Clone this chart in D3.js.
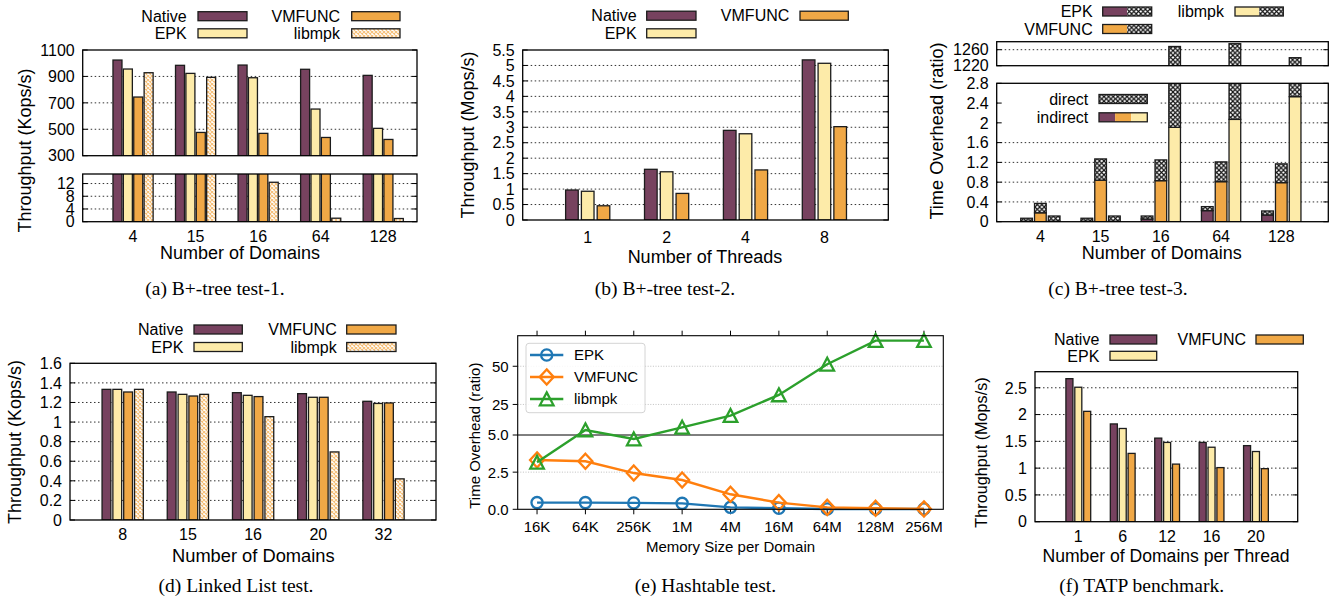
<!DOCTYPE html>
<html><head><meta charset="utf-8">
<script src="https://cdn.jsdelivr.net/npm/d3@7"></script>
<style>
body{margin:0;background:#fff}
svg{display:block}
text{font-family:"Liberation Sans",Arial,Helvetica,sans-serif;fill:#000}
.cap{font-family:"Liberation Serif","Times New Roman",serif}
</style>
</head><body>
<svg id="chart" width="1335" height="602"></svg>
<script>
// ---------------- DATA ----------------
// (a) B+-tree test-1
const aCats = ["4","15","16","64","128"];
const aNative = [1024, 984, 986, 954, 908];
const aEPK = [956, 923, 890, 653, 507];
const aVMFUNC = [744, 476, 469, 438, 423];
const aLibmpk = [928, 893, 12.4, 1.1, 1.0];
const aYTicksUpper = [300, 500, 700, 900, 1100];
const aYTicksLower = [0, 4, 8, 12];

// (b) B+-tree test-2
const bCats = ["1","2","4","8"];
const bNative = [0.97, 1.64, 2.90, 5.18];
const bEPK = [0.93, 1.56, 2.79, 5.07];
const bVMFUNC = [0.46, 0.86, 1.62, 3.02];
const bYTicks = [0, 0.5, 1, 1.5, 2, 2.5, 3, 3.5, 4, 4.5, 5, 5.5];

// (c) B+-tree test-3 (indirect part and total = indirect + direct)
const cCats = ["4","15","16","64","128"];
const cEPKIndirect = [0.01, 0.01, 0.054, 0.224, 0.136];
const cEPKTotal = [0.07, 0.07, 0.115, 0.305, 0.217];
const cVMFUNCIndirect = [0.18, 0.84, 0.83, 0.81, 0.79];
const cVMFUNCTotal = [0.37, 1.27, 1.25, 1.21, 1.17];
const cLibmpkIndirect = [0.01, 0.01, 1.91, 2.07, 2.53];
const cLibmpkTotal = [0.115, 0.115, 1268, 1275, 1240];
const cYTicksUpper = [1220, 1260];
const cYTicksLower = [0, 0.4, 0.8, 1.2, 1.6, 2, 2.4, 2.8];

// (d) Linked List test
const dCats = ["8","15","16","20","32"];
const dNative = [1.334, 1.307, 1.30, 1.29, 1.212];
const dEPK = [1.334, 1.283, 1.273, 1.253, 1.19];
const dVMFUNC = [1.307, 1.266, 1.26, 1.253, 1.195];
const dLibmpk = [1.334, 1.283, 1.055, 0.695, 0.42];
const dYTicks = [0, 0.2, 0.4, 0.6, 0.8, 1, 1.2, 1.4, 1.6];

// (e) Hashtable test
const eCats = ["16K","64K","256K","1M","4M","16M","64M","128M","256M"];
const eEPK = [0.45, 0.45, 0.43, 0.40, 0.13, 0.07, 0.02, 0.02, 0.02];
const eVMFUNC = [3.32, 3.23, 2.44, 1.97, 1.01, 0.45, 0.13, 0.07, 0.02];
const eLibmpk = [3.16, 8.3, 4.73, 10.0, 17.7, 31.2, 51.3, 66.8, 66.8];
const eYTicks = [0, 2.5, 5, 25, 50];
const eYTickLabels = ["0.0", "2.5", "5.0", "25", "50"];

// (f) TATP benchmark
const fCats = ["1","6","12","16","20"];
const fNative = [2.67, 1.825, 1.56, 1.48, 1.42];
const fEPK = [2.51, 1.74, 1.48, 1.39, 1.31];
const fVMFUNC = [2.06, 1.275, 1.075, 1.01, 0.99];
const fYTicks = [0, 0.5, 1, 1.5, 2, 2.5];

const captions = ["(a) B+-tree test-1.", "(b) B+-tree test-2.", "(c) B+-tree test-3.",
                  "(d) Linked List test.", "(e) Hashtable test.", "(f) TATP benchmark."];

// ---------------- STYLE ----------------
const C_NATIVE = "#77425f";
const C_EPK = "#fdeba9";
const C_VMFUNC = "#f0a846";
const OUTLINE = "#1c1c1c";

const svg = d3.select("#chart");
const defs = svg.append("defs");

function crossPattern(id, color, bg, size, sw) {
  const p = defs.append("pattern").attr("id", id).attr("patternUnits", "userSpaceOnUse")
    .attr("width", size).attr("height", size);
  p.append("rect").attr("width", size).attr("height", size).attr("fill", bg);
  p.append("path").attr("d", `M0,0L${size},${size}M${size},0L0,${size}`)
    .attr("stroke", color).attr("stroke-width", sw);
}
crossPattern("libmpkPat", "#f5bf78", "#fff", 4, 1.1);
crossPattern("directPat", "#111", "#fff", 4.6, 1.15);
const F_LIBMPK = "url(#libmpkPat)";
const F_DIRECT = "url(#directPat)";

function text(g, x, y, s, size, anchor) {
  return g.append("text").attr("x", x).attr("y", y).attr("font-size", size)
    .attr("text-anchor", anchor || "start").text(s);
}
function vtext(g, cx, cy, s, size) {
  return g.append("text").attr("transform", `translate(${cx},${cy}) rotate(-90)`)
    .attr("font-size", size).attr("text-anchor", "middle").attr("dy", "0.35em").text(s);
}

let clipN = 0;
function subPanel(g, left, right, sp) {
  const y = d3.scaleLinear().domain(sp.domain).range([sp.bottom, sp.top]);
  const inner = sp.ticks.filter(t => t > sp.domain[0] && t < sp.domain[1]);
  g.append("g").selectAll("line").data(inner).join("line")
    .attr("x1", left).attr("x2", right).attr("y1", d => y(d)).attr("y2", d => y(d))
    .attr("stroke", "#333").attr("stroke-width", 1).attr("stroke-dasharray", "1.5,2.5");
  const cid = "clip" + (clipN++);
  defs.append("clipPath").attr("id", cid).append("rect")
    .attr("x", left).attr("y", sp.top).attr("width", right - left).attr("height", sp.bottom - sp.top);
  const layer = g.append("g").attr("clip-path", `url(#${cid})`);
  return {y, layer, sp};
}
function finishPanel(g, left, right, P, fontSize) {
  const {y, sp} = P;
  g.append("rect").attr("x", left).attr("y", sp.top).attr("width", right - left)
    .attr("height", sp.bottom - sp.top).attr("fill", "none").attr("stroke", "#000").attr("stroke-width", 1.3);
  sp.ticks.forEach(t => {
    g.append("line").attr("x1", left).attr("x2", left + 5).attr("y1", y(t)).attr("y2", y(t))
      .attr("stroke", "#000").attr("stroke-width", 1);
    g.append("line").attr("x1", right - 5).attr("x2", right).attr("y1", y(t)).attr("y2", y(t))
      .attr("stroke", "#000").attr("stroke-width", 1);
  });
  g.append("g").selectAll("text").data(sp.ticks).join("text")
    .attr("x", left - 8).attr("y", d => y(d)).attr("dy", "0.36em")
    .attr("text-anchor", "end").attr("font-size", fontSize).text(d => String(d));
}
function seg(P, x0, w, lo, hi, fill) {
  const {y, layer, sp} = P;
  if (hi <= sp.domain[0] || lo >= sp.domain[1]) return;
  const yt = Math.max(y(hi), sp.top - 4);
  const yb = Math.min(y(lo), sp.bottom + 4);
  layer.append("rect").attr("x", x0).attr("y", yt).attr("width", w).attr("height", yb - yt)
    .attr("fill", fill).attr("stroke", OUTLINE).attr("stroke-width", 1.3);
}
function legendItem(g, textRight, cy, label, sx0, sx1, fills, fontSize) {
  text(g, textRight, cy + 5.7, label, fontSize || 16, "end");
  const w = (sx1 - sx0) / fills.length;
  fills.forEach((f, k) => {
    g.append("rect").attr("x", sx0 + k * w).attr("y", cy - 4.5).attr("width", w).attr("height", 9)
      .attr("fill", f).attr("stroke", "none");
  });
  g.append("rect").attr("x", sx0).attr("y", cy - 4.5).attr("width", sx1 - sx0).attr("height", 9)
    .attr("fill", "none").attr("stroke", OUTLINE).attr("stroke-width", 1.3);
}

function barChart(cfg) {
  const g = svg.append("g");
  const x = d3.scaleLinear().domain(cfg.xDomain).range([cfg.left, cfg.right]);
  const n = cfg.series.length;
  const bw = x(cfg.width) - x(0);
  const panels = cfg.subs.map(sp => subPanel(g, cfg.left, cfg.right, sp));
  panels.forEach(P => {
    cfg.series.forEach((s, k) => {
      const off = (k - (n - 1) / 2) * cfg.step;
      s.vals.forEach((v, i) => seg(P, x(i + off) - bw / 2, bw, 0, v, s.fill));
    });
  });
  panels.forEach(P => finishPanel(g, cfg.left, cfg.right, P, 16));
  g.append("g").selectAll("text").data(cfg.cats).join("text")
    .attr("x", (d, i) => x(i)).attr("y", cfg.xLabelY).attr("text-anchor", "middle")
    .attr("font-size", 16).text(d => d);
  text(g, cfg.xTitle[1], cfg.xTitle[2], cfg.xTitle[0], cfg.xTitle[3] || 18, "middle");
  vtext(g, cfg.yTitle[1], cfg.yTitle[2], cfg.yTitle[0], cfg.yTitle[3] || 18);
  return {g, x};
}

// ---------------- (a) ----------------
const A = barChart({
  cats: aCats, xDomain: [-0.805, 4.54], left: 82.7, right: 417,
  subs: [{top: 50, bottom: 155.7, domain: [300, 1100], ticks: aYTicksUpper},
         {top: 174, bottom: 221.7, domain: [0, 15], ticks: aYTicksLower}],
  series: [{vals: aNative, fill: C_NATIVE}, {vals: aEPK, fill: C_EPK},
           {vals: aVMFUNC, fill: C_VMFUNC}, {vals: aLibmpk, fill: F_LIBMPK}],
  step: 0.166, width: 0.144, xLabelY: 242,
  xTitle: ["Number of Domains", 240, 259, 18], yTitle: ["Throughput (Kops/s)", 25, 150.5, 18]
});
legendItem(A.g, 186.7, 16.2, "Native", 198, 247, [C_NATIVE]);
legendItem(A.g, 186.7, 33.3, "EPK", 198, 247, [C_EPK]);
legendItem(A.g, 340, 16.2, "VMFUNC", 351.7, 400, [C_VMFUNC]);
legendItem(A.g, 340, 33.3, "libmpk", 351.7, 400, [F_LIBMPK]);

// ---------------- (b) ----------------
const B = barChart({
  cats: bCats, xDomain: [-0.824, 3.81], left: 522.7, right: 888.3,
  subs: [{top: 50, bottom: 220, domain: [0, 5.5], ticks: bYTicks}],
  series: [{vals: bNative, fill: C_NATIVE}, {vals: bEPK, fill: C_EPK}, {vals: bVMFUNC, fill: C_VMFUNC}],
  step: 0.2, width: 0.16, xLabelY: 243,
  xTitle: ["Number of Threads", 705, 263.3, 18], yTitle: ["Throughput (Mops/s)", 468, 135, 18]
});
legendItem(B.g, 636.7, 15.7, "Native", 646.7, 696, [C_NATIVE]);
legendItem(B.g, 636.7, 33.3, "EPK", 646.7, 696, [C_EPK]);
legendItem(B.g, 789.3, 15.7, "VMFUNC", 800, 848.3, [C_VMFUNC]);

// ---------------- (c) ----------------
(function () {
  const left = 996.7, right = 1328.3;
  const g = svg.append("g");
  const x = d3.scaleLinear().domain([-0.725, 4.78]).range([left, right]);
  const subs = [{top: 41.7, bottom: 65.7, domain: [1220, 1280], ticks: cYTicksUpper},
                {top: 83.3, bottom: 221.7, domain: [0, 2.8], ticks: cYTicksLower}];
  const panels = subs.map(sp => subPanel(g, left, right, sp));
  const series = [
    {ind: cEPKIndirect, tot: cEPKTotal, fill: C_NATIVE},
    {ind: cVMFUNCIndirect, tot: cVMFUNCTotal, fill: C_VMFUNC},
    {ind: cLibmpkIndirect, tot: cLibmpkTotal, fill: C_EPK}
  ];
  const step = 0.229, width = 0.194, bw = x(width) - x(0);
  panels.forEach(P => {
    series.forEach((s, k) => {
      const off = (k - 1) * step;
      s.tot.forEach((t, i) => {
        const x0 = x(i + off) - bw / 2;
        seg(P, x0, bw, 0, s.ind[i], s.fill);
        seg(P, x0, bw, s.ind[i], t, F_DIRECT);
      });
    });
  });
  // white legend background covering grid lines
  g.append("rect").attr("x", left + 1).attr("y", 88).attr("width", 1158 - left).attr("height", 38).attr("fill", "#fff");
  panels.forEach(P => finishPanel(g, left, right, P, 16));
  g.append("g").selectAll("text").data(cCats).join("text")
    .attr("x", (d, i) => x(i)).attr("y", 242).attr("text-anchor", "middle").attr("font-size", 16).text(d => d);
  text(g, 1161.7, 259, "Number of Domains", 18, "middle");
  vtext(g, 936.7, 131, "Time Overhead (ratio)", 18.2);
  legendItem(g, 1092.7, 11.5, "EPK", 1102.7, 1151.7, [C_NATIVE, F_DIRECT]);
  legendItem(g, 1092.7, 29, "VMFUNC", 1102.7, 1151.7, [C_VMFUNC, F_DIRECT]);
  legendItem(g, 1224, 11.5, "libmpk", 1235, 1283.3, [C_EPK, F_DIRECT]);
  legendItem(g, 1088.3, 99, "direct", 1099, 1147.3, [F_DIRECT]);
  legendItem(g, 1088.3, 117.3, "indirect", 1099, 1147.3, [C_NATIVE, C_VMFUNC, C_EPK]);
})();

// ---------------- (d) ----------------
const D = barChart({
  cats: dCats, xDomain: [-0.808, 4.805], left: 70, right: 436,
  subs: [{top: 363.3, bottom: 520, domain: [0, 1.6], ticks: dYTicks}],
  series: [{vals: dNative, fill: C_NATIVE}, {vals: dEPK, fill: C_EPK},
           {vals: dVMFUNC, fill: C_VMFUNC}, {vals: dLibmpk, fill: F_LIBMPK}],
  step: 0.166, width: 0.135, xLabelY: 540,
  xTitle: ["Number of Domains", 253.3, 561.7, 18.3], yTitle: ["Throughput (Kops/s)", 15, 442, 18]
});
legendItem(D.g, 183.3, 329.5, "Native", 194, 242.3, [C_NATIVE]);
legendItem(D.g, 183.3, 347, "EPK", 194, 242.3, [C_EPK]);
legendItem(D.g, 336.7, 329.5, "VMFUNC", 346.7, 396, [C_VMFUNC]);
legendItem(D.g, 336.7, 347, "libmpk", 346.7, 396, [F_LIBMPK]);

// ---------------- (f) ----------------
const Fp = barChart({
  cats: fCats, xDomain: [-0.975, 4.94], left: 1035, right: 1297.7,
  subs: [{top: 371.7, bottom: 521.7, domain: [0, 2.8], ticks: fYTicks}],
  series: [{vals: fNative, fill: C_NATIVE}, {vals: fEPK, fill: C_EPK}, {vals: fVMFUNC, fill: C_VMFUNC}],
  step: 0.2, width: 0.158, xLabelY: 541.7,
  xTitle: ["Number of Domains per Thread", 1166, 561.7, 17.6], yTitle: ["Throughput (Mops/s)", 981.7, 452.5, 16.2]
});
legendItem(Fp.g, 1099.3, 339.5, "Native", 1110, 1156.7, [C_NATIVE]);
legendItem(Fp.g, 1099.3, 355.8, "EPK", 1110, 1156.7, [C_EPK]);
legendItem(Fp.g, 1246, 339.5, "VMFUNC", 1256, 1303.3, [C_VMFUNC]);

// ---------------- (e) ----------------
(function () {
  const left = 517.7, right = 943.3, top = 335.7, bottom = 509.3;
  const g = svg.append("g");
  const x = d3.scaleLinear().domain([-0.4, 8.4]).range([left, right]);
  const y = d3.scaleLinear().domain([0, 5, 70]).range([bottom, 435, top]);
  g.append("g").selectAll("line").data(eYTicks.filter(t => t > 0 && t !== 5)).join("line")
    .attr("x1", left).attr("x2", right).attr("y1", d => y(d)).attr("y2", d => y(d))
    .attr("stroke", "#b0b0b0").attr("stroke-width", 0.8).attr("stroke-dasharray", "1,1.6");
  g.append("line").attr("x1", left).attr("x2", right).attr("y1", y(5)).attr("y2", y(5))
    .attr("stroke", "#000").attr("stroke-width", 1);
  eCats.forEach((c, i) => {
    g.append("line").attr("x1", x(i)).attr("x2", x(i)).attr("y1", bottom).attr("y2", bottom + 5).attr("stroke", "#000");
    g.append("line").attr("x1", x(i)).attr("x2", x(i)).attr("y1", top).attr("y2", top - 5).attr("stroke", "#000");
  });
  eYTicks.forEach(t => g.append("line").attr("x1", left - 5).attr("x2", left).attr("y1", y(t)).attr("y2", y(t)).attr("stroke", "#000"));
  g.append("g").selectAll("text").data(eYTicks).join("text")
    .attr("x", left - 9).attr("y", d => y(d)).attr("dy", "0.36em").attr("text-anchor", "end")
    .attr("font-size", 15).text((d, i) => eYTickLabels[i]);
  g.append("g").selectAll("text").data(eCats).join("text")
    .attr("x", (d, i) => x(i)).attr("y", 531.7).attr("text-anchor", "middle").attr("font-size", 15).text(d => d);
  text(g, (left + right) / 2, 552, "Memory Size per Domain", 15, "middle");
  vtext(g, 475, 435.7, "Time Overhead (ratio)", 15);

  const series = [
    {name: "EPK", vals: eEPK, color: "#1f77b4", m: "circle"},
    {name: "VMFUNC", vals: eVMFUNC, color: "#ff7f0e", m: "diamond"},
    {name: "libmpk", vals: eLibmpk, color: "#2ca02c", m: "triangle"}
  ];
  const line = d3.line().x((d, i) => x(i)).y(d => y(d));
  function marker(gg, cx, cy, m, color) {
    let p;
    if (m === "circle") p = gg.append("circle").attr("cx", cx).attr("cy", cy).attr("r", 5.6);
    else if (m === "diamond") p = gg.append("path").attr("d", `M${cx},${cy - 7.6}L${cx + 7},${cy}L${cx},${cy + 7.6}L${cx - 7},${cy}Z`);
    else p = gg.append("path").attr("d", `M${cx},${cy - 6.6}L${cx + 6.8},${cy + 6.3}L${cx - 6.8},${cy + 6.3}Z`);
    p.attr("fill", "none").attr("stroke", color).attr("stroke-width", 2.3).attr("stroke-linejoin", "miter");
  }
  series.forEach(s => {
    g.append("path").attr("d", line(s.vals)).attr("fill", "none").attr("stroke", s.color).attr("stroke-width", 2.4);
    s.vals.forEach((v, i) => marker(g, x(i), y(v), s.m, s.color));
  });
  g.append("rect").attr("x", left).attr("y", top).attr("width", right - left).attr("height", bottom - top)
    .attr("fill", "none").attr("stroke", "#000").attr("stroke-width", 1.1);
  const lg = g.append("g");
  lg.append("rect").attr("x", 526).attr("y", 343.3).attr("width", 119).attr("height", 69.4).attr("rx", 3)
    .attr("fill", "#fff").attr("fill-opacity", 0.85).attr("stroke", "#d4d4d4").attr("stroke-width", 1);
  series.forEach((s, k) => {
    const cy = 355 + k * 22;
    lg.append("line").attr("x1", 530).attr("x2", 563.3).attr("y1", cy).attr("y2", cy).attr("stroke", s.color).attr("stroke-width", 2.4);
    marker(lg, 546.7, cy, s.m, s.color);
    text(lg, 574, cy + 5.4, s.name, 15, "start");
  });
})();

// ---------------- captions ----------------
const capPos = [[215, 295], [665, 295], [1118, 295], [236, 592], [705.5, 592], [1141.7, 592]];
svg.append("g").selectAll("text").data(captions).join("text").attr("class", "cap")
  .attr("x", (d, i) => capPos[i][0]).attr("y", (d, i) => capPos[i][1])
  .attr("text-anchor", "middle").attr("font-size", 19.5).text(d => d);
</script>
</body></html>
